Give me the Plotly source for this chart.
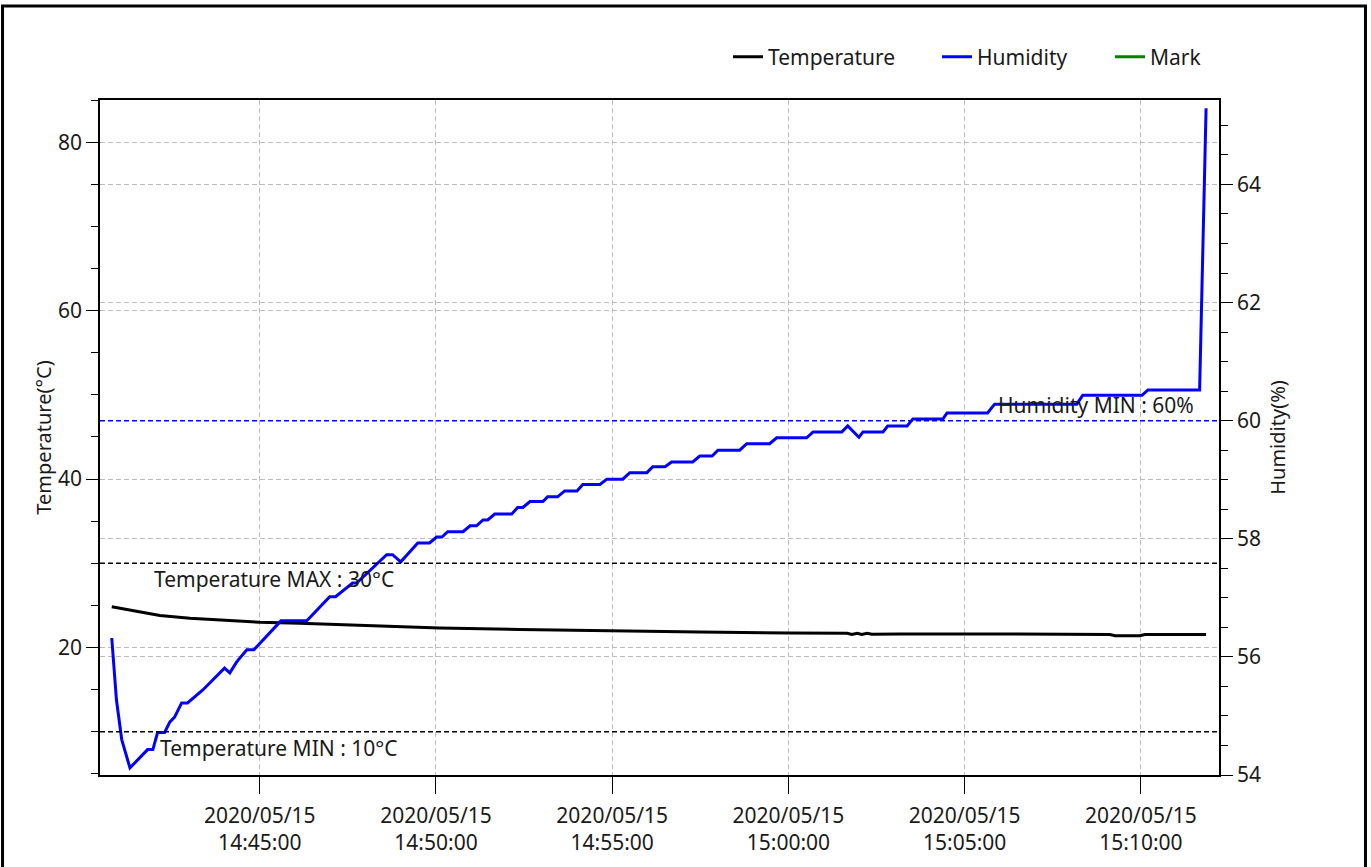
import plotly.graph_objects as go

# ---------------- data ----------------
temp_times = [
    "2020-05-15 14:40:48", "2020-05-15 14:41:10", "2020-05-15 14:41:36", "2020-05-15 14:42:10",
    "2020-05-15 14:43:01", "2020-05-15 14:44:00", "2020-05-15 14:45:00", "2020-05-15 14:46:08",
    "2020-05-15 14:47:16", "2020-05-15 14:48:41", "2020-05-15 14:50:06", "2020-05-15 14:52:23",
    "2020-05-15 14:54:56", "2020-05-15 14:57:29", "2020-05-15 15:00:02", "2020-05-15 15:01:28",
    "2020-05-15 15:01:40", "2020-05-15 15:01:48", "2020-05-15 15:01:57", "2020-05-15 15:02:05",
    "2020-05-15 15:02:14", "2020-05-15 15:02:22", "2020-05-15 15:03:10", "2020-05-15 15:06:00",
    "2020-05-15 15:09:07", "2020-05-15 15:09:16", "2020-05-15 15:09:58", "2020-05-15 15:10:07",
    "2020-05-15 15:11:51",
]
temp_values = [
    24.85, 24.57, 24.16, 23.80,
    23.47, 23.23, 22.99, 22.87,
    22.70, 22.52, 22.32, 22.14,
    21.96, 21.84, 21.72, 21.66,
    21.69, 21.54, 21.69, 21.54,
    21.69, 21.57, 21.60, 21.60,
    21.54, 21.40, 21.40, 21.54,
    21.54,
]

hum_times = [
    "2020-05-15 14:40:48", "2020-05-15 14:40:56", "2020-05-15 14:41:05", "2020-05-15 14:41:19",
    "2020-05-15 14:41:49", "2020-05-15 14:41:58", "2020-05-15 14:42:06", "2020-05-15 14:42:18",
    "2020-05-15 14:42:27", "2020-05-15 14:42:35", "2020-05-15 14:42:47", "2020-05-15 14:42:57",
    "2020-05-15 14:43:23", "2020-05-15 14:44:00", "2020-05-15 14:44:09", "2020-05-15 14:44:21",
    "2020-05-15 14:44:38", "2020-05-15 14:44:50", "2020-05-15 14:45:36", "2020-05-15 14:46:20",
    "2020-05-15 14:46:59", "2020-05-15 14:47:09", "2020-05-15 14:47:38", "2020-05-15 14:47:45",
    "2020-05-15 14:48:36", "2020-05-15 14:48:46", "2020-05-15 14:49:00", "2020-05-15 14:49:29",
    "2020-05-15 14:49:49", "2020-05-15 14:50:01", "2020-05-15 14:50:10", "2020-05-15 14:50:20",
    "2020-05-15 14:50:46", "2020-05-15 14:50:58", "2020-05-15 14:51:09", "2020-05-15 14:51:20",
    "2020-05-15 14:51:28", "2020-05-15 14:51:40", "2020-05-15 14:52:09", "2020-05-15 14:52:19",
    "2020-05-15 14:52:28", "2020-05-15 14:52:40", "2020-05-15 14:53:02", "2020-05-15 14:53:10",
    "2020-05-15 14:53:27", "2020-05-15 14:53:39", "2020-05-15 14:54:00", "2020-05-15 14:54:10",
    "2020-05-15 14:54:39", "2020-05-15 14:54:51", "2020-05-15 14:55:18", "2020-05-15 14:55:30",
    "2020-05-15 14:55:59", "2020-05-15 14:56:09", "2020-05-15 14:56:30", "2020-05-15 14:56:41",
    "2020-05-15 14:57:17", "2020-05-15 14:57:29", "2020-05-15 14:57:50", "2020-05-15 14:58:00",
    "2020-05-15 14:58:37", "2020-05-15 14:58:49", "2020-05-15 14:59:28", "2020-05-15 14:59:40",
    "2020-05-15 15:00:31", "2020-05-15 15:00:42", "2020-05-15 15:01:31", "2020-05-15 15:01:41",
    "2020-05-15 15:02:00", "2020-05-15 15:02:07", "2020-05-15 15:02:41", "2020-05-15 15:02:49",
    "2020-05-15 15:03:22", "2020-05-15 15:03:32", "2020-05-15 15:04:23", "2020-05-15 15:04:30",
    "2020-05-15 15:05:39", "2020-05-15 15:05:51", "2020-05-15 15:08:11", "2020-05-15 15:08:21",
    "2020-05-15 15:10:02", "2020-05-15 15:10:12", "2020-05-15 15:11:40", "2020-05-15 15:11:51",
]
hum_values = [
    56.32, 55.27, 54.60, 54.12,
    54.43, 54.43, 54.72, 54.72,
    54.90, 54.98, 55.22, 55.22,
    55.44, 55.81, 55.73, 55.92,
    56.12, 56.12, 56.61, 56.61,
    57.02, 57.02, 57.25, 57.25,
    57.73, 57.73, 57.61, 57.93,
    57.93, 58.03, 58.03, 58.12,
    58.12, 58.22, 58.22, 58.32,
    58.32, 58.42, 58.42, 58.53,
    58.53, 58.63, 58.63, 58.71,
    58.71, 58.81, 58.81, 58.92,
    58.92, 59.01, 59.01, 59.12,
    59.12, 59.22, 59.22, 59.30,
    59.30, 59.40, 59.40, 59.50,
    59.50, 59.61, 59.61, 59.71,
    59.71, 59.81, 59.81, 59.91,
    59.72, 59.81, 59.81, 59.91,
    59.91, 60.03, 60.03, 60.13,
    60.13, 60.28, 60.28, 60.43,
    60.43, 60.52, 60.52, 65.29,
]

mark_times = []
mark_values = []

temp_max = 30
temp_min = 10
hum_min = 60

x_range = ["2020-05-15 14:40:28", "2020-05-15 15:12:13"]
temp_range = [4.86, 85.02]
hum_range = [54, 65.43]

FONT = "Noto Sans"
TXT = "#1a1a1a"
FS = 21

# ---------------- figure ----------------
fig = go.Figure()
fig.add_trace(go.Scatter(x=temp_times, y=temp_values, name="Temperature", mode="lines",
                         line=dict(color="#000000", width=3), yaxis="y", legend="legend"))
fig.add_trace(go.Scatter(x=hum_times, y=hum_values, name="Humidity", mode="lines",
                         line=dict(color="#0000FF", width=3), yaxis="y2", legend="legend2"))
fig.add_trace(go.Scatter(x=mark_times if mark_times else [None], y=mark_values if mark_values else [None],
                         name="Mark", mode="lines", line=dict(color="#008000", width=3), yaxis="y",
                         legend="legend3"))

# threshold lines
fig.add_shape(type="line", xref="paper", x0=0, x1=1, yref="y", y0=temp_max, y1=temp_max,
              line=dict(color="#000000", width=1.5, dash="5px,3px"))
fig.add_shape(type="line", xref="paper", x0=0, x1=1, yref="y", y0=temp_min, y1=temp_min,
              line=dict(color="#000000", width=1.5, dash="5px,3px"))
fig.add_shape(type="line", xref="paper", x0=0, x1=1, yref="y2", y0=hum_min, y1=hum_min,
              line=dict(color="#0000FF", width=1.5, dash="5px,3px"))

ann_font = dict(family=FONT, size=FS, color=TXT)
fig.add_annotation(text=f"Temperature MAX : {temp_max}°C", xref="paper", x=0.0465, xanchor="left",
                   yref="y", y=temp_max, yanchor="top", showarrow=False, font=ann_font)
fig.add_annotation(text=f"Temperature MIN : {temp_min}°C", xref="paper", x=0.0518, xanchor="left",
                   yref="y", y=temp_min, yanchor="top", showarrow=False, font=ann_font)
fig.add_annotation(text=f"Humidity MIN : {hum_min}%", xref="paper", x=0.9794, xanchor="right",
                   yref="y2", y=hum_min, yanchor="bottom", showarrow=False, font=ann_font)

# outer frame
fig.add_shape(type="rect", xref="paper", yref="paper", x0=-0.0871, x1=1.1309, y0=-0.145, y1=1.1393,
              line=dict(color="#000000", width=3), layer="above")

grid = dict(showgrid=True, gridcolor="#bdbdbd", gridwidth=1, griddash="5px,3px")
leg_common = dict(orientation="h", xanchor="left", y=1.0637, yanchor="middle",
                  font=dict(family=FONT, size=FS, color=TXT), bgcolor="rgba(0,0,0,0)", itemwidth=30)

fig.update_layout(
    width=1371, height=867,
    margin=dict(l=100, r=152, t=100, b=92),
    paper_bgcolor="white", plot_bgcolor="white",
    font=dict(family=FONT, size=FS, color=TXT),
    showlegend=True,
    legend=dict(x=0.5612, **leg_common),
    legend2=dict(x=0.7480, **leg_common),
    legend3=dict(x=0.9026, **leg_common),
    xaxis=dict(type="date", range=x_range, tick0="2020-05-15 14:45:00", dtick=300000,
               tickformat="%Y/%m/%d<br>%H:%M:%S", ticks="outside", ticklen=17, tickcolor="#000",
               tickwidth=1.3, showline=True, linecolor="#000", linewidth=1.5, mirror=True,
               zeroline=False, ticklabelstandoff=4, tickfont=dict(family=FONT, size=FS, color=TXT), **grid),
    yaxis=dict(range=temp_range, tick0=0, dtick=20, ticks="outside", ticklen=12, tickcolor="#000",
               tickwidth=1.3, showline=True, linecolor="#000", linewidth=1.5, zeroline=False,
               minor=dict(dtick=5, ticks="outside", ticklen=7, tickcolor="#000", showgrid=False),
               title=dict(text="Temperature(°C)", standoff=1, font=dict(family=FONT, size=20, color=TXT)),
               tickfont=dict(family=FONT, size=FS, color=TXT), **grid),
    yaxis2=dict(range=hum_range, tick0=0, dtick=2, overlaying="y", side="right", anchor="x",
                ticks="outside", ticklen=12, tickcolor="#000", tickwidth=1.3, showline=True,
                linecolor="#000", linewidth=1.5, zeroline=False,
                minor=dict(dtick=0.5, ticks="outside", ticklen=7, tickcolor="#000", showgrid=False),
                title=dict(text="Humidity(%)", standoff=11, font=dict(family=FONT, size=20, color=TXT)),
                tickfont=dict(family=FONT, size=FS, color=TXT), **grid),
)

fig.write_html("out.html", config={"displayModeBar": False},
               post_script="document.body.style.margin='0px';")
